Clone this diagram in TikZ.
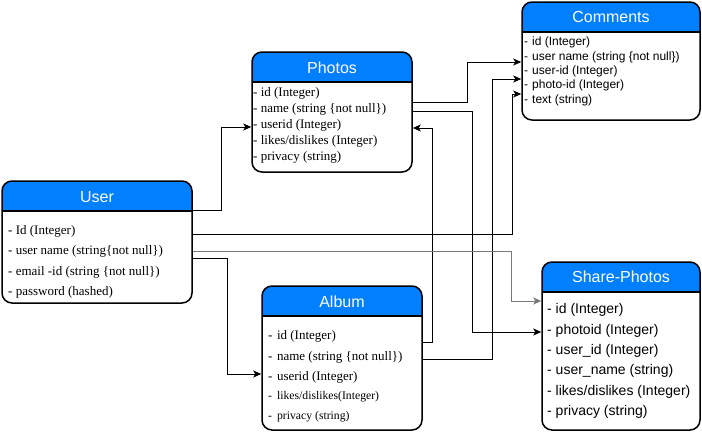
\documentclass[tikz,border=0pt]{standalone}
\usepackage{fontspec}
\setmainfont{Liberation Serif}
\setsansfont{Liberation Sans}
\usetikzlibrary{arrows.meta, positioning, calc}
\definecolor{cHead}{RGB}{0, 127, 255}
\definecolor{cLink}{RGB}{120, 120, 120}
\tikzset{
    % table box with blue title band
    tblNode/.style={
        rectangle, rounded corners=10pt, line width=1.5pt, draw=black, fill=white,
        path picture={
            \fill[cHead, sharp corners] (path picture bounding box.north west) rectangle ([yshift=-30pt]path picture bounding box.north east);
            \draw[line width=1.5pt, sharp corners] ([yshift=-30pt]path picture bounding box.north west) -- ([yshift=-30pt]path picture bounding box.north east);
        }
    },
    % table title
    titleNode/.style={
        inner sep=0pt, text=white, font=\sffamily\fontsize{16}{18}\selectfont
    },
    % field rows
    rowSerif/.style={anchor=west, inner sep=0pt, yshift=-1pt, font=\fontsize{13}{15}\selectfont},
    rowSmall/.style={anchor=west, inner sep=0pt, yshift=-1pt, font=\fontsize{11.7}{13}\selectfont},
    rowSans/.style={anchor=west, inner sep=0pt, yshift=-1pt, font=\sffamily\fontsize{12}{14}\selectfont},
    rowBig/.style={anchor=west, inner sep=0pt, yshift=-1pt, font=\sffamily\fontsize{14}{16}\selectfont},
    % links
    conn/.style={
        -{Stealth[length=8pt, width=7pt, inset=2pt]}, line width=1pt, draw=black
    }
}

\begin{document}
\begin{tikzpicture}[x=1pt, y=-1pt]
	\useasboundingbox (0,0) rectangle (702,432);

	% 1. User
	\node[tblNode, minimum width=190pt, minimum height=122pt] (user) at (97,242) {};
	\node[titleNode] (userT) at ([yshift=-16.5pt]user.north) {User};
	\node[rowSerif] (uId) at (8,230) {- Id (Integer)};
	\node[rowSerif] (uName) at (8,250) {- user name (string\{not null\})};
	\node[rowSerif] (uMail) at (8,271) {- email -id (string \{not null\})};
	\node[rowSerif] (uPass) at (8,291) {- password (hashed)};

	% 2. Photos
	\node[tblNode, minimum width=160pt, minimum height=120pt] (photos) at (332,112) {};
	\node[titleNode] (photosT) at ([yshift=-16.5pt]photos.north) {Photos};
	\node[rowSerif] (pId) at (253,92) {- id (Integer)};
	\node[rowSerif] (pName) at (253,108) {- name (string \{not null\})};
	\node[rowSerif] (pUid) at (253,124) {- userid (Integer)};
	\node[rowSerif] (pLike) at (253,140) {- likes/dislikes (Integer)};
	\node[rowSerif] (pPriv) at (253,156) {- privacy (string)};

	% 3. Comments
	\node[tblNode, minimum width=178pt, minimum height=118pt] (comments) at (611,61) {};
	\node[titleNode] (commentsT) at ([yshift=-16pt]comments.north) {Comments};
	\node[rowSans] (cId) at (524,41) {-\hspace{4pt}id (Integer)};
	\node[rowSans] (cName) at (524,56) {-\hspace{4pt}user name (string \{not null\})};
	\node[rowSans] (cUser) at (524,70) {-\hspace{4pt}user-id (Integer)};
	\node[rowSans] (cPhoto) at (524,84) {-\hspace{4pt}photo-id (Integer)};
	\node[rowSans] (cText) at (524,99) {-\hspace{4pt}text (string)};

	% 4. Album
	\node[tblNode, minimum width=160pt, minimum height=144pt] (album) at (342,358) {};
	\node[titleNode] (albumT) at ([yshift=-16.5pt]album.north) {Album};
	\node[rowSerif] (aId) at (268,335) {-\hspace{4.5pt}id (Integer)};
	\node[rowSerif] (aName) at (268,356) {-\hspace{4.5pt}name (string \{not null\})};
	\node[rowSerif] (aUid) at (268,376) {-\hspace{4.5pt}userid (Integer)};
	\node[rowSmall] (aLike) at (268,396) {-\hspace{5pt}likes/dislikes(Integer)};
	\node[rowSmall] (aPriv) at (268,416) {-\hspace{5pt}privacy (string)};

	% 5. Share-Photos
	\node[tblNode, minimum width=158pt, minimum height=168pt] (share) at (621,346) {};
	\node[titleNode] (shareT) at ([yshift=-16pt]share.north) {Share-Photos};
	\node[rowBig] (sId) at (547,309) {- id (Integer)};
	\node[rowBig] (sPhoto) at (547,330) {- photoid (Integer)};
	\node[rowBig] (sUid) at (547,350) {- user\_id (Integer)};
	\node[rowBig] (sUname) at (547,370) {- user\_name (string)};
	\node[rowBig] (sLike) at (547,391) {- likes/dislikes (Integer)};
	\node[rowBig] (sPriv) at (547,411) {- privacy (string)};

	% 6. links
	\draw[conn] ([yshift=-30pt]user.north east) -- ++(29,0) |- ($(photos.west |- pUid)+(0,2)$);
	\draw[conn] ($(photos.east |- pName)+(0,-7)$) -- ++(55,0) |- ($(comments.west |- cName)+(0,5)$);
	\draw[conn] ($(photos.east |- pName)+(0,2)$) -- ++(60,0) |- ($(share.west |- sPhoto)+(0,1)$);
	\draw[conn] ($(album.east |- aName)+(0,2)$) -- ++(70,0) |- ($(comments.west |- cUser)+(0,8)$);
	\draw[conn] ($(user.east |- uId)+(0,3)$) -- ++(320,0) |- ($(comments.west |- cText)+(0,-6)$);
	\draw[conn] ($(album.east |- aId)+(0,6)$) -- ++(10,0) |- ($(photos.east |- pUid)+(0,3)$);
	\draw[conn, draw=cLink, cLink] (user.east |- uName) -- ++(319,0) |- ($(share.west |- sId)+(0,-9)$);
	\draw[conn] ($(user.east |- uName)+(0,7)$) -- ++(35,0) |- ($(album.west |- aUid)+(0,-3)$);

\end{tikzpicture}
\end{document}
